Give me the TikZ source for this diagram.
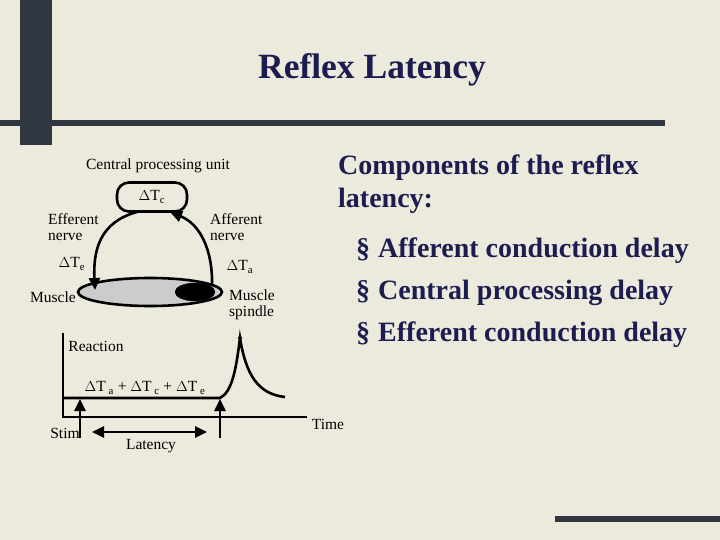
\documentclass[tikz,border=0pt]{standalone}
\usepackage{fontspec}
\setmainfont{Liberation Serif}
\usetikzlibrary{arrows.meta,patterns,shapes.geometric}
\definecolor{navy}{RGB}{28,28,80}
\definecolor{bg}{RGB}{236,234,220}
\definecolor{bar}{RGB}{50,56,66}
\tikzset{
 small/.style={font=\fontsize{15.5}{16}\selectfont, inner sep=0pt},
 ln/.style={line width=2.6pt},
 arr/.style={ln,-{Triangle[length=12pt,width=11pt]}},
 big/.style={font=\fontsize{28}{33}\selectfont\bfseries, text=navy, anchor=west, inner sep=0pt},
}
\begin{document}
\begin{tikzpicture}[x=1pt,y=-1pt]
\fill[bg] (0,0) rectangle (720,540);
\useasboundingbox (0,0) rectangle (720,540);
\fill[bar] (20,0) rectangle (52,145);
\fill[bar] (0,120) rectangle (665,126);
\fill[bar] (555,516) rectangle (720,522);
\node[font=\fontsize{35.5}{38}\selectfont\bfseries, text=navy] (title) at (372,70) {Reflex Latency};
% diagram
\node[small] (cpul) at (158,166) {Central processing unit};
\node[draw, ln, rounded corners=12pt, minimum width=70pt, minimum height=29pt, small] (cpu) at (152,197) {$\Delta$T\textsubscript{c}};
\draw[ln, pattern=dots, pattern color=gray!80!black, fill=gray!40] (150,292) ellipse [x radius=72, y radius=14];
\node[draw, fill=black, ellipse, minimum width=40pt, minimum height=18pt, inner sep=0pt] (spindle) at (195,292) {};
\coordinate (eff0) at (137,212);
\coordinate (eff1) at (95,290);
\coordinate (aff0) at (212,286);
\coordinate (aff1) at (170,212);
\draw[arr] (eff0) .. controls (100,222) and (93,250) .. (eff1);
\draw[arr] (aff0) .. controls (213,250) and (200,224) .. (aff1);
\node[small, align=left, anchor=west] (effl) at (48,227) {Efferent\\nerve};
\node[small, align=left, anchor=west] (affl) at (210,227) {Afferent\\nerve};
\node[small] (te) at (72,264) {$\Delta$T\textsubscript{e}};
\node[small] (ta) at (240,267) {$\Delta$T\textsubscript{a}};
\node[small] (mus) at (53,297) {Muscle};
\node[small, align=left, anchor=west] (spl) at (229,305) {Muscle\\spindle};
% graph
\coordinate (o) at (63,417);
\coordinate (ytop) at (63,333);
\coordinate (xend) at (307,417);
\draw[ln] (ytop) -- (o) -- (xend);
\node[small] (time) at (328,424) {Time};
\node[small] (reac) at (96,346) {Reaction};
\coordinate (b0) at (63,398);
\coordinate (b1) at (220,398);
\coordinate (pk) at (240,338);
\coordinate (b2) at (285,397);
\draw[ln] (b0) -- (b1) .. controls (232,392) and (236,370) .. (pk) .. controls (246,375) and (258,394) .. (b2);
\fill (pk) circle (2pt);
\node[small] (sum) at (145,388) {$\Delta$T\textsubscript{ a} + $\Delta$T\textsubscript{ c} + $\Delta$T\textsubscript{ e}};
\coordinate (s0) at (80,438);
\coordinate (s1) at (80,399);
\coordinate (r0) at (220,438);
\coordinate (r1) at (220,399);
\draw[arr] (s0) -- (s1);
\draw[arr] (r0) -- (r1);
\node[small] (stim) at (65,433) {Stim};
\coordinate (l0) at (92,432);
\coordinate (l1) at (207,432);
\draw[ln,{Triangle[length=12pt,width=11pt]}-{Triangle[length=12pt,width=11pt]}] (l0) -- (l1);
\node[small] (lat) at (151,446) {Latency};
% text
\node[big, align=left, anchor=north west] (comp) at (338,155) {Components of the reflex\\latency:};
\node[big] (b1t) at (356,251) {\textsection\hspace{8pt}Afferent conduction delay};
\node[big] (b2t) at (356,293) {\textsection\hspace{8pt}Central processing delay};
\node[big] (b3t) at (356,335) {\textsection\hspace{8pt}Efferent conduction delay};
\end{tikzpicture}
\end{document}
